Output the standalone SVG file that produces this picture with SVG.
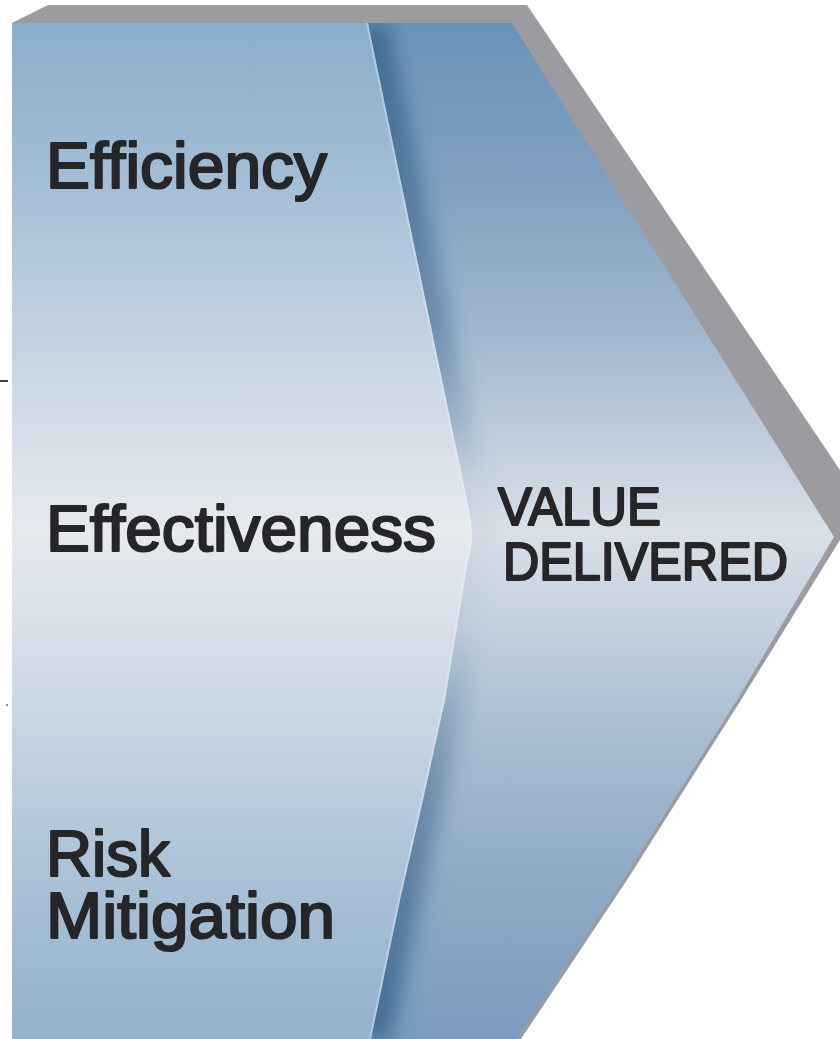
<svg xmlns="http://www.w3.org/2000/svg" width="840" height="1039" viewBox="0 0 840 1039">
  <style>
    .lbl { font-family: "Liberation Sans", Arial, sans-serif; font-size: 64px; fill: #262628; stroke: #262628; stroke-width: 2.2px; stroke-linejoin: round; }
    .val { font-family: "Liberation Sans", Arial, sans-serif; font-size: 54px; fill: #262628; stroke: #262628; stroke-width: 2.2px; stroke-linejoin: round; }
  </style>
  <defs>
    <linearGradient id="gLeft" gradientUnits="userSpaceOnUse" x1="0" y1="23" x2="0" y2="1039">
      <stop offset="0" stop-color="#8aaecb"/>
      <stop offset="0.15" stop-color="#a2bdd5"/>
      <stop offset="0.3" stop-color="#c2d1e1"/>
      <stop offset="0.5" stop-color="#e6eaef"/>
      <stop offset="0.7" stop-color="#c6d4e2"/>
      <stop offset="0.85" stop-color="#a9c0d6"/>
      <stop offset="1" stop-color="#92b2ce"/>
    </linearGradient>
    <linearGradient id="gRight" gradientUnits="userSpaceOnUse" x1="0" y1="23" x2="0" y2="1039">
      <stop offset="0" stop-color="#6a93b9"/>
      <stop offset="0.15" stop-color="#7f9fc0"/>
      <stop offset="0.3" stop-color="#a0b6cd"/>
      <stop offset="0.5" stop-color="#d9e0e8"/>
      <stop offset="0.7" stop-color="#a9bdd1"/>
      <stop offset="0.85" stop-color="#8ea9c5"/>
      <stop offset="1" stop-color="#7a9cbe"/>
    </linearGradient>
    <linearGradient id="gShadow" gradientUnits="userSpaceOnUse" x1="0" y1="23" x2="0" y2="1039">
      <stop offset="0" stop-color="#3d6890" stop-opacity="0.9"/>
      <stop offset="0.3" stop-color="#3d6890" stop-opacity="0.5"/>
      <stop offset="0.45" stop-color="#3d6890" stop-opacity="0.05"/>
      <stop offset="0.6" stop-color="#3d6890" stop-opacity="0.05"/>
      <stop offset="0.75" stop-color="#3d6890" stop-opacity="0.5"/>
      <stop offset="1" stop-color="#3d6890" stop-opacity="0.9"/>
    </linearGradient>
    <filter id="blur" filterUnits="userSpaceOnUse" x="280" y="0" width="320" height="1039">
      <feGaussianBlur stdDeviation="10"/>
    </filter>
    <clipPath id="clipBlue">
      <path d="M12,23 L512,23 L834,537 L737,700 L623,880 L517,1039 L12,1039 Z"/>
    </clipPath>
  </defs>

  <g id="bevel">
    <path d="M12,23 L48,5 L527,5 L840,470 L840,540 L741,700 L627,880 L521,1039 L12,1039 Z" fill="#9c9b9f"/>
  </g>

  <g id="panel-right">
    <path d="M12,23 L512,23 L834,537 L737,700 L623,880 L517,1039 L12,1039 Z" fill="url(#gRight)"/>
    <g clip-path="url(#clipBlue)">
      <path d="M368,23 L468,505 Q476,535 468,560 L445,700 L423,800 L400,900 L371,1039" fill="none" stroke="url(#gShadow)" stroke-width="40" filter="url(#blur)"/>
    </g>
  </g>

  <g id="panel-left">
    <path d="M12,23 L368,23 L468,505 Q476,535 468,560 L445,700 L423,800 L400,900 L371,1039 L12,1039 Z" fill="url(#gLeft)"/>
    <path d="M367,23 L467,505 Q475,535 467,560 L444,700 L422,800 L399,900 L370,1039" fill="none" stroke="#eef3f8" stroke-opacity="0.35" stroke-width="2"/>
  </g>

  <g id="label-efficiency">
    <text class="lbl" x="46" y="188" textLength="281" lengthAdjust="spacingAndGlyphs">Efficiency</text>
  </g>
  <g id="label-effectiveness">
    <text class="lbl" x="46" y="551" textLength="390" lengthAdjust="spacingAndGlyphs">Effectiveness</text>
  </g>
  <g id="label-risk">
    <text class="lbl"><tspan x="46" y="876" textLength="124" lengthAdjust="spacingAndGlyphs">Risk</tspan><tspan x="46" y="938" textLength="289" lengthAdjust="spacingAndGlyphs">Mitigation</tspan></text>
  </g>
  <g id="label-value">
    <text class="val"><tspan x="498" y="525" textLength="163" lengthAdjust="spacingAndGlyphs">VALUE</tspan><tspan x="503" y="580" textLength="285" lengthAdjust="spacingAndGlyphs">DELIVERED</tspan></text>
  </g>

  <g id="marks">
    <line x1="0" y1="381" x2="8" y2="381" stroke="#000" stroke-width="1.5"/>
    <circle cx="7" cy="705" r="0.8" fill="#000"/>
  </g>
</svg>
